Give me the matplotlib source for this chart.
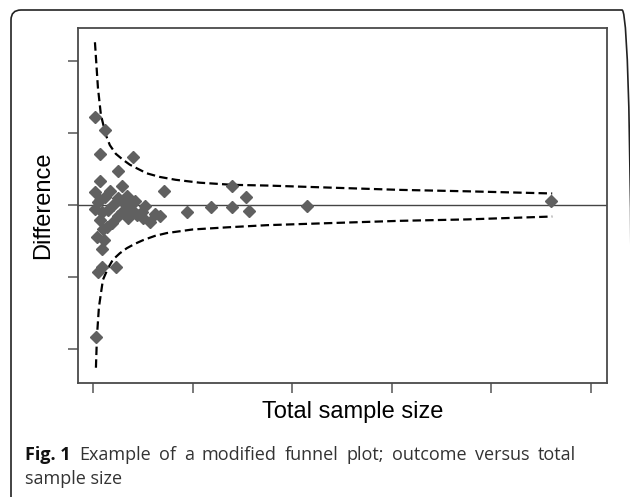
import matplotlib
matplotlib.use("Agg")
import matplotlib.pyplot as plt
from matplotlib.patches import FancyBboxPatch

# study points: total sample size vs difference
size = [2, 12, 7, 40, 25, 7, 29, 71, 2, 17, 25, 42, 12, 34, 2, 9, 29, 39, 49, 67,
        94, 119, 140, 157, 154, 140, 215, 460, 19, 57, 10, 4, 9, 5, 9, 23, 3, 50,
        44, 7, 14, 20, 5, 15, 32, 52, 62, 25, 35, 11, 7]
diff = [1.22, 1.04, 0.71, 0.67, 0.47, 0.33, 0.26, 0.19, 0.18, 0.19, 0.10, 0.06,
        0.11, 0.13, -0.06, -0.10, -0.10, -0.07, -0.10, -0.15, -0.10, -0.03, -0.03,
        -0.08, 0.11, 0.26, -0.01, 0.06, -0.25, -0.24, -0.33, -0.44, -0.61, -0.93,
        -0.86, -0.86, -1.83, -0.18, -0.14, -0.21, -0.31, 0.00, 0.04, -0.07, 0.01,
        -0.01, -0.13, -0.15, -0.18, -0.49, 0.07]

# funnel limits
up_n = [2, 5, 8, 13, 17, 23, 30, 37, 44, 54, 67, 83, 107, 140, 175, 241, 308, 376, 461]
up_d = [2.26, 1.63, 1.25, 0.97, 0.83, 0.71, 0.63, 0.56, 0.51, 0.44, 0.39, 0.35,
        0.31, 0.28, 0.27, 0.24, 0.21, 0.19, 0.16]
lo_n = [3, 4, 6, 10, 15, 20, 27, 34, 42, 50, 62, 74, 100, 135, 175, 241, 308, 376, 461]
lo_d = [-2.26, -1.83, -1.42, -1.04, -0.88, -0.76, -0.67, -0.60, -0.54, -0.49,
        -0.43, -0.39, -0.34, -0.31, -0.28, -0.25, -0.22, -0.20, -0.16]

xticks = [0, 100, 200, 300, 400, 500]
yticks = [-2, -1, 0, 1, 2]

caption_bold = "Fig. 1"
caption_line1 = "Example of a modified funnel plot; outcome versus total"
caption_line2 = "sample size"

W, H = 630, 497
fig = plt.figure(figsize=(W / 100, H / 100), dpi=100)

def fx(x):
    return x / W

def fy(y):
    return 1 - y / H

# outer rounded frame (runs off the right and bottom edges)
frame = FancyBboxPatch((0.11, -0.3), 6.21, 5.17, boxstyle="round,pad=0,rounding_size=0.1",
                       transform=fig.dpi_scale_trans, fill=False, ec="#222222", lw=1.2,
                       clip_on=False)
fig.patches.append(frame)

ax = fig.add_axes([fx(78), fy(383), fx(607) - fx(78), fy(28) - fy(383)])
ax.set_xlim(-15, 516)
ax.set_ylim(-2.472, 2.458)

ax.axhline(0, color="#444444", lw=1.0, zorder=1)
ax.plot(up_n, up_d, color="black", lw=1.6, dashes=(3.8, 1.9), zorder=2)
ax.plot(lo_n, lo_d, color="black", lw=1.6, dashes=(3.8, 1.9), zorder=2)
ax.plot(size, diff, linestyle="none", marker="D", ms=6.2, color="#606060",
        mec="#606060", zorder=3)

ax.set_xticks(xticks)
ax.set_yticks(yticks)
ax.tick_params(direction="out", length=7.2, width=1.1, color="#555555",
               labelleft=False, labelbottom=False)
for s in ax.spines.values():
    s.set_color("#4a4a4a")
    s.set_linewidth(1.3)

ax.text((43 - 78) / 529, 0.5, "Difference", transform=ax.transAxes, rotation=90,
        ha="center", va="center", fontsize=17, family="Liberation Sans")
fig.text(fx(353), fy(412), "Total sample size", ha="center", va="center",
         fontsize=17, family="Liberation Sans")

# caption, first line justified to the right margin
cap_font = ["Open Sans", "DejaVu Sans"]
fs = 13.0
words = [(caption_bold, "bold")] + [(w, "normal") for w in caption_line1.split()]
r = fig.canvas.get_renderer()
texts = []
for w, wt in words:
    t = fig.text(0, fy(460), w, ha="left", va="baseline", fontsize=fs, fontweight=wt,
                 family=cap_font, color="#111111" if wt == "bold" else "#333333")
    texts.append(t)
widths = [t.get_window_extent(r).width for t in texts]
left, right = 25, 576
gap = (right - left - sum(widths)) / (len(texts) - 1)
x = left
for t, wd in zip(texts, widths):
    t.set_x(fx(x))
    x += wd + gap
fig.text(fx(25), fy(484), caption_line2, ha="left", va="baseline", fontsize=fs,
         family=cap_font, color="#333333")

fig.savefig("out.png", dpi=100)
